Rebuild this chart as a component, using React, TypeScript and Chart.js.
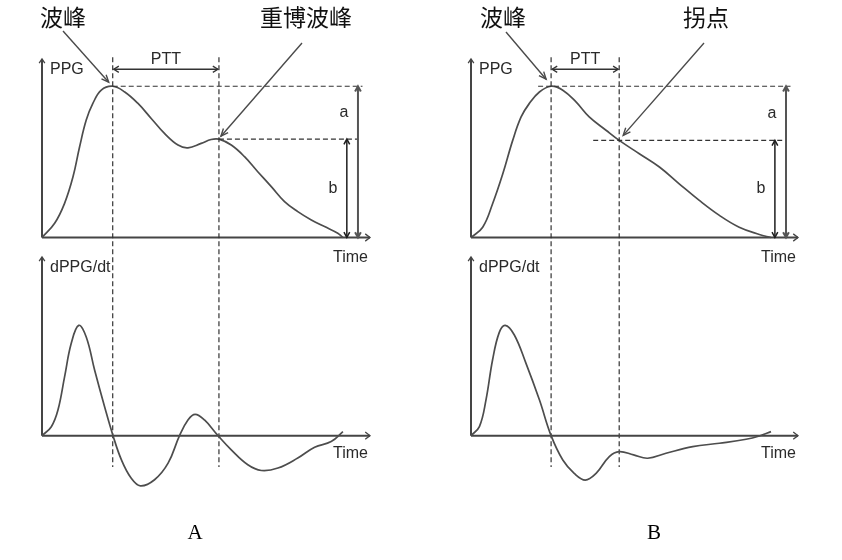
import React, { useEffect, useRef } from "react";
import { Chart, registerables } from "chart.js";

Chart.register(...registerables);

// ---------------- data (normalised time: 0 = pulse foot, 1 = end of beat) ----------------
const ppgA_time = [0, 0.042, 0.075, 0.103, 0.125, 0.147, 0.169, 0.197, 0.235, 0.275, 0.319, 0.363, 0.407, 0.452, 0.485, 0.529, 0.562, 0.588, 0.629, 0.673, 0.717, 0.762, 0.806, 0.85, 0.895, 0.939, 0.983, 1.0];
const ppgA_value = [0, 0.094, 0.226, 0.401, 0.6, 0.776, 0.886, 0.974, 1.0, 0.962, 0.886, 0.787, 0.688, 0.611, 0.593, 0.622, 0.648, 0.65, 0.611, 0.534, 0.435, 0.336, 0.237, 0.171, 0.116, 0.072, 0.028, 0];

const dppgA_time = [0, 0.031, 0.053, 0.075, 0.097, 0.122, 0.147, 0.175, 0.208, 0.236, 0.264, 0.296, 0.327, 0.374, 0.419, 0.457, 0.485, 0.509, 0.54, 0.585, 0.629, 0.684, 0.729, 0.784, 0.85, 0.906, 0.961, 1.0];
const dppgA_value = [0, 0.081, 0.232, 0.533, 0.835, 1.0, 0.894, 0.593, 0.262, 0, -0.22, -0.384, -0.455, -0.4, -0.25, 0, 0.142, 0.193, 0.142, 0, -0.129, -0.264, -0.316, -0.294, -0.203, -0.105, -0.054, 0.036];

const ppgB_time = [0, 0.039, 0.072, 0.106, 0.139, 0.167, 0.194, 0.228, 0.267, 0.306, 0.35, 0.394, 0.45, 0.494, 0.561, 0.628, 0.694, 0.761, 0.828, 0.894, 0.961, 1.0];
const ppgB_value = [0, 0.068, 0.223, 0.421, 0.642, 0.797, 0.885, 0.962, 1.0, 0.974, 0.896, 0.797, 0.709, 0.642, 0.554, 0.466, 0.355, 0.245, 0.146, 0.068, 0.02, 0];

const dppgB_time = [0, 0.028, 0.05, 0.072, 0.094, 0.114, 0.144, 0.183, 0.228, 0.267, 0.306, 0.344, 0.381, 0.417, 0.461, 0.494, 0.542, 0.589, 0.65, 0.739, 0.828, 0.917, 0.961, 1.0];
const dppgB_value = [0, 0.082, 0.325, 0.688, 0.934, 1.0, 0.915, 0.658, 0.325, 0, -0.221, -0.342, -0.403, -0.342, -0.19, -0.145, -0.175, -0.205, -0.16, -0.1, -0.069, -0.033, -0.003, 0.036];

// second feature points (dicrotic peak in A, inflection point in B)
const dicroticTimeA = 0.588;
const inflectionTimeB = 0.494;

// texts
const axisLabels = { ppg: "PPG", dppg: "dPPG/dt", time: "Time", ptt: "PTT", a: "a", b: "b" };
const featureLabelsA = ["波峰", "重博波峰"];
const featureLabelsB = ["波峰", "拐点"];
const panelTitles = ["A", "B"];

// ---------------- helpers ----------------
function valueAt(t: number, times: number[], values: number[]) {
  for (let i = 0; i < times.length - 1; i++) {
    if (t >= times[i] && t <= times[i + 1]) {
      const f = (t - times[i]) / (times[i + 1] - times[i] || 1);
      return values[i] + f * (values[i + 1] - values[i]);
    }
  }
  return values[values.length - 1];
}
function peakOf(times: number[], values: number[]) {
  let k = 0;
  values.forEach((v, i) => { if (v > values[k]) k = i; });
  return { t: times[k], v: values[k] };
}

const SANS = '"Liberation Sans", Arial, sans-serif';
const CJK = '"Noto Sans CJK SC", sans-serif';
const SERIF = '"Liberation Serif", "Times New Roman", serif';
const GUIDE_BOTTOM = 467;

function line(ctx: CanvasRenderingContext2D, x1: number, y1: number, x2: number, y2: number) {
  ctx.beginPath();
  ctx.moveTo(x1, y1);
  ctx.lineTo(x2, y2);
  ctx.stroke();
}
function head(ctx: CanvasRenderingContext2D, x: number, y: number, ang: number, len: number, spread: number) {
  ctx.beginPath();
  ctx.moveTo(x - len * Math.cos(ang - spread), y - len * Math.sin(ang - spread));
  ctx.lineTo(x, y);
  ctx.lineTo(x - len * Math.cos(ang + spread), y - len * Math.sin(ang + spread));
  ctx.stroke();
}
function arrow(ctx: CanvasRenderingContext2D, x1: number, y1: number, x2: number, y2: number, both: boolean, len: number, spread: number) {
  line(ctx, x1, y1, x2, y2);
  const ang = Math.atan2(y2 - y1, x2 - x1);
  head(ctx, x2, y2, ang, len, spread);
  if (both) head(ctx, x1, y1, ang + Math.PI, len, spread);
}
function text(ctx: CanvasRenderingContext2D, s: string, x: number, y: number, font: string, color: string, align: CanvasTextAlign = "center") {
  ctx.font = font;
  ctx.fillStyle = color;
  ctx.textAlign = align;
  ctx.textBaseline = "middle";
  ctx.fillText(s, x, y);
}

function axesPlugin(yLabel: string, timeDy: number) {
  return {
    id: "axes",
    beforeDatasetsDraw(chart: any) {
      const { ctx } = chart;
      const xs = chart.scales.x, ys = chart.scales.y;
      const x0 = xs.getPixelForValue(0), y0 = ys.getPixelForValue(0);
      const yTop = ys.getPixelForValue(ys.max), xRight = xs.getPixelForValue(xs.max);
      ctx.save();
      ctx.strokeStyle = "#454545";
      ctx.lineWidth = 2;
      ctx.lineCap = "butt";
      line(ctx, x0, y0, x0, yTop);
      line(ctx, x0, y0, xRight, y0);
      ctx.lineWidth = 1.3;
      head(ctx, x0, yTop, -Math.PI / 2, 5, 0.6);
      head(ctx, xRight, y0, 0, 6, 0.65);
      text(ctx, yLabel, x0 + 8, yTop + 10.5, `16px ${SANS}`, "#2a2a2a", "left");
      text(ctx, axisLabels.time, xRight - 2, y0 + timeDy, `16px ${SANS}`, "#2a2a2a", "right");
      ctx.restore();
    },
  };
}

type TopLayout = {
  peakLineDx: number;
  markLineDx: number;
  labels: string[];
  labelPos: [number, number][];
  arrowStart: [number, number][];
  tipOffset: [number, number][];
};

function topAnnotations(p1: { t: number; v: number }, p2: { t: number; v: number }, L: TopLayout) {
  return {
    id: "topAnn",
    afterDatasetsDraw(chart: any) {
      const { ctx } = chart;
      const xs = chart.scales.x, ys = chart.scales.y;
      const X = (v: number) => xs.getPixelForValue(v);
      const Y = (v: number) => ys.getPixelForValue(v);
      const px1 = X(p1.t), py1 = Y(p1.v), px2 = X(p2.t), py2 = Y(p2.v), y0 = Y(0);
      ctx.save();
      // dashed guides
      ctx.strokeStyle = "#333";
      ctx.lineWidth = 1.2;
      ctx.setLineDash([5, 3]);
      line(ctx, px1 + L.peakLineDx, py1, X(1.065), py1);
      line(ctx, px2 + L.markLineDx, py2, X(1.05), py2);
      line(ctx, px1, py1 - 29, px1, GUIDE_BOTTOM);
      line(ctx, px2, py1 - 29, px2, GUIDE_BOTTOM);
      ctx.setLineDash([]);
      // PTT
      ctx.lineWidth = 1.3;
      ctx.strokeStyle = "#333";
      arrow(ctx, px1 + 1, py1 - 17, px2 - 1, py1 - 17, true, 6, 0.55);
      text(ctx, axisLabels.ptt, (px1 + px2) / 2, py1 - 27, `16px ${SANS}`, "#2a2a2a");
      // a / b
      const xa = X(1.05), xb = X(1.013);
      ctx.strokeStyle = "#555";
      ctx.lineWidth = 2;
      arrow(ctx, xa, y0, xa, py1, true, 6, 0.5);
      ctx.strokeStyle = "#1e1e1e";
      ctx.lineWidth = 1.5;
      arrow(ctx, xb, y0, xb, py2, true, 6, 0.5);
      text(ctx, axisLabels.a, xa - 14, Y((p1.v + p2.v) / 2), `16px ${SANS}`, "#2a2a2a");
      text(ctx, axisLabels.b, xb - 14, Y(p2.v / 2), `16px ${SANS}`, "#2a2a2a");
      // feature labels with arrows
      const targets = [
        [px1, py1],
        [px2, py2],
      ];
      ctx.strokeStyle = "#4a4a4a";
      ctx.lineWidth = 1.4;
      L.labels.forEach((s, i) => {
        text(ctx, s, L.labelPos[i][0], L.labelPos[i][1], `23px ${CJK}`, "#111");
        const [sx, sy] = L.arrowStart[i];
        const tx = targets[i][0] + L.tipOffset[i][0];
        const ty = targets[i][1] + L.tipOffset[i][1];
        arrow(ctx, sx, sy, tx, ty, false, 8, 0.4);
      });
      ctx.restore();
    },
  };
}

function titlePlugin(title: string, cx: number) {
  return {
    id: "title",
    afterDatasetsDraw(chart: any) {
      const { ctx } = chart;
      ctx.save();
      text(ctx, title, cx, 533, `21px ${SERIF}`, "#000");
      ctx.restore();
    },
  };
}

function baseConfig(times: number[], values: number[], pad: any, yMin: number, yMax: number, plugins: any[]) {
  return {
    type: "line" as const,
    data: {
      datasets: [
        {
          data: times.map((t, i) => ({ x: t, y: values[i] })),
          borderColor: "#4d4d4d",
          borderWidth: 1.7,
          pointRadius: 0,
          fill: false,
          tension: 0.4,
          clip: 4,
        },
      ],
    },
    options: {
      animation: false as const,
      responsive: false,
      maintainAspectRatio: false,
      events: [],
      layout: { padding: pad },
      scales: {
        x: { type: "linear" as const, min: 0, max: 1.09, display: false },
        y: { type: "linear" as const, min: yMin, max: yMax, display: false },
      },
      plugins: { legend: { display: false }, tooltip: { enabled: false }, title: { display: false } },
    },
    plugins,
  };
}

function ChartCanvas({ make }: { make: () => any }) {
  const ref = useRef<HTMLCanvasElement | null>(null);
  useEffect(() => {
    if (!ref.current) return;
    const chart = new Chart(ref.current, make());
    return () => chart.destroy();
  }, []);
  return (
    <canvas
      ref={ref}
      width={842}
      height={560}
      style={{ position: "absolute", left: 0, top: 0, width: 842, height: 560 }}
    />
  );
}

export default function App() {
  const peakA = peakOf(ppgA_time, ppgA_value);
  const dicA = { t: dicroticTimeA, v: valueAt(dicroticTimeA, ppgA_time, ppgA_value) };
  const peakB = peakOf(ppgB_time, ppgB_value);
  const infB = { t: inflectionTimeB, v: valueAt(inflectionTimeB, ppgB_time, ppgB_value) };

  const layoutA: TopLayout = {
    peakLineDx: 0,
    markLineDx: 0,
    labels: featureLabelsA,
    labelPos: [[63, 17], [306, 17]],
    arrowStart: [[63, 31], [302, 43]],
    tipOffset: [[-4, -4], [2, -3]],
  };
  const layoutB: TopLayout = {
    peakLineDx: -13,
    markLineDx: -26,
    labels: featureLabelsB,
    labelPos: [[503, 17], [706, 17]],
    arrowStart: [[506, 32], [704, 43]],
    tipOffset: [[-5, -7], [4, -5]],
  };

  const padTopA = { left: 42, right: 472, top: 59, bottom: 322.5 };
  const padTopB = { left: 471, right: 44, top: 59, bottom: 322.5 };
  const padBotA = { left: 42, right: 472, top: 257, bottom: 58.2 };
  const padBotB = { left: 471, right: 44, top: 257, bottom: 58.2 };

  return (
    <div style={{ position: "fixed", left: 0, top: 0, width: 842, height: 560, background: "#fff" }}>
      <ChartCanvas make={() => baseConfig(ppgA_time, ppgA_value, padTopA, 0, 1.18, [axesPlugin(axisLabels.ppg, 20), topAnnotations(peakA, dicA, layoutA)])} />
      <ChartCanvas make={() => baseConfig(dppgA_time, dppgA_value, padBotA, -0.6, 1.62, [axesPlugin(axisLabels.dppg, 17.5), titlePlugin(panelTitles[0], 195)])} />
      <ChartCanvas make={() => baseConfig(ppgB_time, ppgB_value, padTopB, 0, 1.18, [axesPlugin(axisLabels.ppg, 20), topAnnotations(peakB, infB, layoutB)])} />
      <ChartCanvas make={() => baseConfig(dppgB_time, dppgB_value, padBotB, -0.6, 1.62, [axesPlugin(axisLabels.dppg, 17.5), titlePlugin(panelTitles[1], 654)])} />
    </div>
  );
}
